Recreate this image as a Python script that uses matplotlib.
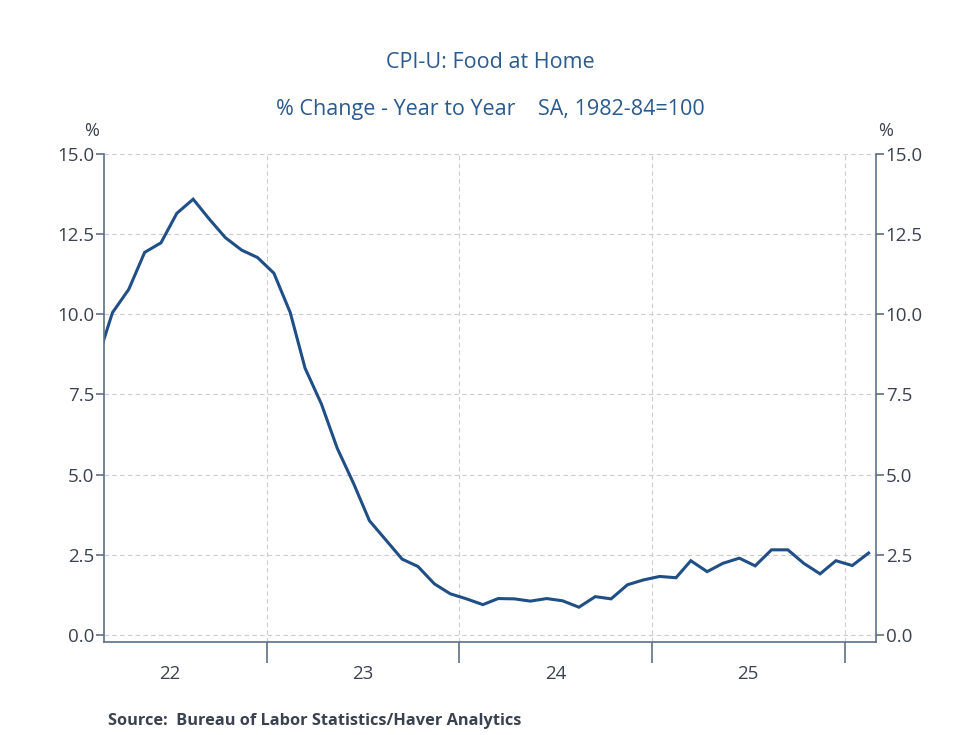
import numpy as np
import pandas as pd
import matplotlib.pyplot as plt
import matplotlib.dates as mdates

# monthly % change year to year, Feb 2022 - Feb 2026 (plotted mid-month)
months = pd.date_range("2022-02-01", periods=49, freq="MS") + pd.Timedelta(days=14)
food_at_home = [
    8.6, 10.05, 10.78, 11.93, 12.23, 13.15, 13.59, 12.96, 12.39, 12.0, 11.77,
    11.28, 10.05, 8.32, 7.2, 5.82, 4.72, 3.56, 2.96, 2.36, 2.13, 1.59, 1.28,
    1.12, 0.94, 1.13, 1.12, 1.05, 1.13, 1.06, 0.86, 1.19, 1.12, 1.56, 1.71,
    1.82, 1.78, 2.31, 1.97, 2.23, 2.39, 2.15, 2.65, 2.65, 2.23, 1.90, 2.31,
    2.16, 2.55,
]
year_labels = ["22", "23", "24", "25"]
y_ticks = [0.0, 2.5, 5.0, 7.5, 10.0, 12.5, 15.0]

axis_col = "#5d6f86"
text_col = "#3a4250"
title_col = "#2b5a8e"
line_col = "#1f4f86"

plt.rcParams['font.family'] = ['Open Sans', 'DejaVu Sans']

fig = plt.figure(figsize=(9.8, 7.35), dpi=100)
ax = fig.add_axes([104 / 980, 1 - 641.5 / 735, 772 / 980, 487.5 / 735])

ax.plot(months, food_at_home, color=line_col, lw=2.2, solid_joinstyle='miter')

ax.set_xlim(pd.Timestamp("2022-02-27"), pd.Timestamp("2026-03-01"))
ax.set_ylim(-0.21, 15.0)

# y axis on both sides
ax.set_yticks(y_ticks)
ax.set_yticklabels([f"{v:.1f}" for v in y_ticks])
ax.tick_params(axis='y', which='both', left=True, right=True, labelleft=True,
               labelright=True, direction='out', length=6, width=1.2,
               color=axis_col, labelcolor=text_col, labelsize=13.5, pad=1)

# x axis: long ticks at year boundaries, year labels centred
boundaries = [pd.Timestamp(f"{y}-01-01") for y in range(2023, 2027)]
ax.set_xticks(boundaries)
ax.set_xticklabels([])
centres = [pd.Timestamp(f"20{y}-07-02") for y in year_labels]
ax.set_xticks(centres, minor=True)
ax.set_xticklabels(year_labels, minor=True)
ax.tick_params(axis='x', which='major', direction='out', length=15, width=1.2,
               color=axis_col)
ax.tick_params(axis='x', which='minor', length=0, pad=17, labelsize=13.5,
               labelcolor=text_col)

ax.grid(True, which='major', color='#cccccc', linestyle=(0, (4, 3)), lw=0.8)

for side in ['left', 'right', 'bottom']:
    ax.spines[side].set_color(axis_col)
    ax.spines[side].set_linewidth(1.2)
ax.spines['top'].set_visible(False)

fig.text(92 / 980, 1 - 131 / 735, "%", ha='center', va='center',
         color=text_col, fontsize=13)
fig.text(886 / 980, 1 - 131 / 735, "%", ha='center', va='center',
         color=text_col, fontsize=13)

fig.text(0.5, 1 - 62 / 735, "CPI-U: Food at Home", ha='center', va='center',
         color=title_col, fontsize=15.5)
fig.text(0.5, 1 - 110 / 735, "% Change - Year to Year    SA, 1982-84=100",
         ha='center', va='center', color=title_col, fontsize=15.5)

fig.text(108 / 980, 1 - 721 / 735,
         "Source:  Bureau of Labor Statistics/Haver Analytics",
         ha='left', va='center', color=text_col, fontsize=11.8,
         fontweight='bold')

fig.savefig("out.png", dpi=100)
